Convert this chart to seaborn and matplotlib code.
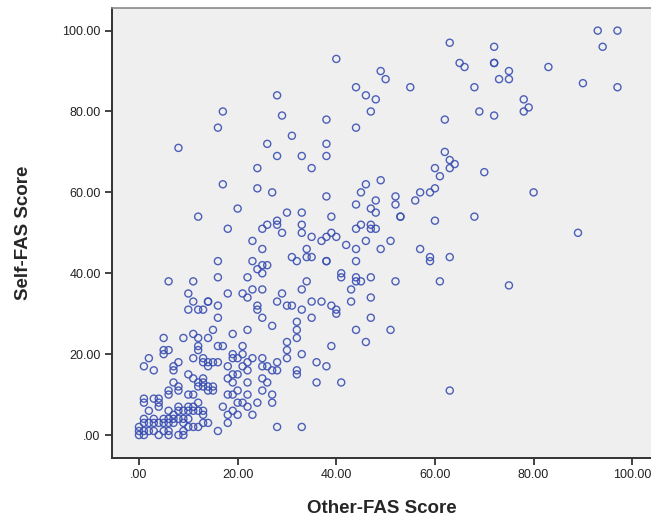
import matplotlib
matplotlib.use("Agg")
import matplotlib.pyplot as plt
import seaborn as sns
import pandas as pd

other_fas = [
    40, 49, 50, 44, 46, 48, 28, 17, 29, 38, 47, 16, 44, 31, 8, 26, 38, 28, 33, 38,
    24, 35, 17, 24, 27, 38, 46, 49, 45, 48, 44, 47, 48, 20, 12, 30, 33, 39, 18, 25,
    26, 28, 28, 29, 33, 33, 35, 37, 38, 39, 40, 44, 45, 47, 47, 48, 46, 23,
    93, 97, 94, 63, 72, 72, 72, 65, 66, 75, 83, 73, 75, 55, 68, 90, 97, 78, 79, 78,
    69, 72, 62, 62, 63, 64, 63, 60, 61, 70, 60, 59, 57, 56, 52, 52, 53, 53, 60, 68,
    80, 89, 51,
    49, 57, 59, 59, 63, 47, 52, 61, 75, 47, 47, 51, 63,
    42, 44, 25, 31, 32, 34, 34, 35, 38, 38, 16, 23, 24, 25, 26, 25, 44, 41, 41, 44,
    44, 45, 43, 43, 44, 46,
    6, 11, 16, 22, 18, 21, 22, 23, 25, 29, 33, 34, 10, 11, 14, 14, 16, 28, 30, 31,
    33, 35, 37, 39, 40, 40, 24, 24, 25, 22, 27, 32, 32, 32, 30, 30, 30, 33, 35, 39,
    38, 36, 36, 41, 32, 32, 28, 28, 27, 26, 25, 25, 23, 22, 22, 21, 20, 21, 19, 19,
    18, 19, 18, 20, 19, 22, 25, 26, 25, 27, 27, 24, 22, 23, 22, 21, 20, 20, 20, 19,
    18, 19, 17, 18, 18, 16, 28, 33,
    5, 9, 5, 5, 6, 1, 2, 3, 7, 7, 8, 10, 11, 11, 12, 12, 12, 11, 13, 13,
    14, 14, 15, 16, 14, 15, 16, 17, 16, 10, 12, 13, 19, 21,
    7, 8, 8, 6, 6, 10, 11, 12, 12, 13, 13, 13, 14, 14, 15, 15,
    1, 1, 3, 4, 4, 4, 2, 6, 7, 8, 8, 9, 10, 10, 11, 11, 12, 12, 13, 13,
    1, 1, 2, 3, 3, 4, 5, 5, 6, 6, 7, 7, 8, 9, 9, 10, 11, 13, 14,
    0, 0, 0, 1, 1, 2, 3, 4, 5, 6, 6, 8, 9, 9, 10, 12,
]

self_fas = [
    93, 90, 88, 86, 84, 83, 84, 80, 79, 78, 80, 76, 76, 74, 71, 72, 72, 69, 69, 69,
    66, 66, 62, 61, 60, 59, 62, 63, 60, 58, 57, 56, 55, 56, 54, 55, 55, 54, 51, 51,
    52, 53, 52, 50, 52, 50, 49, 48, 49, 50, 49, 51, 52, 52, 51, 51, 48, 48,
    100, 100, 96, 97, 96, 92, 92, 92, 91, 90, 91, 88, 88, 86, 86, 87, 86, 83, 81, 80,
    80, 79, 78, 70, 68, 67, 66, 66, 64, 65, 61, 60, 60, 58, 59, 57, 54, 54, 53, 54,
    60, 50, 48,
    46, 46, 44, 43, 44, 39, 38, 38, 37, 34, 29, 26, 11,
    47, 46, 46, 44, 43, 46, 44, 44, 43, 43, 43, 43, 41, 42, 42, 40, 43, 40, 39, 39,
    38, 38, 36, 33, 26, 23,
    38, 38, 39, 39, 35, 35, 34, 36, 36, 35, 36, 38, 35, 33, 33, 33, 32, 33, 32, 32,
    31, 33, 33, 32, 31, 30, 32, 31, 29, 26, 27, 28, 26, 24, 23, 21, 19, 20, 29, 22,
    17, 18, 13, 13, 16, 15, 18, 16, 16, 17, 17, 19, 19, 18, 16, 17, 19, 20, 20, 19,
    17, 15, 14, 15, 13, 13, 14, 13, 11, 10, 8, 8, 10, 5, 7, 8, 11, 8, 5, 6,
    10, 10, 7, 5, 3, 1, 2, 2,
    24, 24, 21, 20, 21, 17, 19, 16, 17, 16, 18, 15, 14, 19, 24, 22, 21, 25, 19, 18,
    18, 17, 18, 18, 24, 26, 22, 22, 29, 31, 31, 31, 25, 22,
    13, 12, 11, 11, 10, 10, 10, 13, 12, 14, 13, 12, 12, 11, 12, 11,
    9, 8, 9, 9, 8, 7, 6, 6, 5, 7, 6, 6, 7, 6, 7, 6, 8, 6, 6, 5,
    4, 3, 3, 4, 3, 3, 4, 3, 3, 4, 3, 4, 4, 4, 3, 4, 2, 3, 3,
    2, 1, 0, 1, 0, 1, 1, 0, 1, 1, 0, 0, 1, 0, 2, 2,
]

x_ticks = [0, 20, 40, 60, 80, 100]
x_tick_labels = [".00", "20.00", "40.00", "60.00", "80.00", "100.00"]
y_ticks = [0, 20, 40, 60, 80, 100]
y_tick_labels = [".00", "20.00", "40.00", "60.00", "80.00", "100.00"]

df = pd.DataFrame({"Other-FAS Score": other_fas, "Self-FAS Score": self_fas})

sns.set_style("ticks", {"axes.facecolor": "#efefef"})
plt.rcParams["font.family"] = ["Liberation Sans", "DejaVu Sans"]

fig = plt.figure(figsize=(6.51, 5.23), dpi=100)
fig.patch.set_facecolor("white")
ax = fig.add_axes([0.1716, 0.1249, 1.0 - 0.1716, 0.984 - 0.1249])

sns.scatterplot(data=df, x="Other-FAS Score", y="Self-FAS Score", ax=ax,
                marker="o", s=26, facecolor="none", edgecolor="#3a4fb2",
                linewidth=1.0, alpha=0.9)

ax.set_facecolor("#efefef")
ax.patch.set_alpha(1.0)
ax.set_xlim(-5.53, 103.8)
ax.set_ylim(-5.6, 105.5)
ax.set_xticks(x_ticks)
ax.set_xticklabels(x_tick_labels)
ax.set_yticks(y_ticks)
ax.set_yticklabels(y_tick_labels)
ax.tick_params(axis="both", direction="out", length=5, width=1.2, color="#222222",
               labelsize=9, labelcolor="#222222", pad=3,
               bottom=True, left=True, top=False, right=False)

for side in ["left", "bottom"]:
    ax.spines[side].set_visible(True)
    ax.spines[side].set_color("#333333")
    ax.spines[side].set_linewidth(1.4)
ax.spines["top"].set_visible(True)
ax.spines["top"].set_color("#8a8a8a")
ax.spines["top"].set_linewidth(1.2)
ax.spines["right"].set_visible(False)
ax.grid(False)

ax.set_xlabel("Other-FAS Score", fontsize=13.5, fontweight="bold", labelpad=14)
ax.set_ylabel("Self-FAS Score", fontsize=13.5, fontweight="bold", labelpad=22)

fig.savefig("out.png", dpi=100, facecolor="white")
